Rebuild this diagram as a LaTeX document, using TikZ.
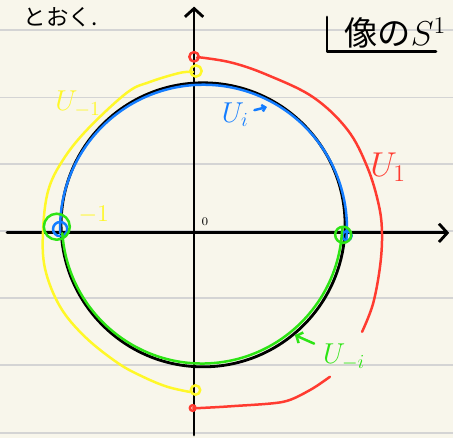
\documentclass[tikz,border=0pt]{standalone}
\usepackage{fontspec}
\newfontfamily\jpfont{Noto Sans CJK JP}
\usepackage{tikz}
\usetikzlibrary{arrows.meta,positioning,calc}
\definecolor{paper}{RGB}{248,246,235}
\definecolor{rulegray}{RGB}{212,212,212}
\definecolor{penred}{RGB}{255,59,48}
\definecolor{penyellow}{RGB}{255,248,40}
\definecolor{penblue}{RGB}{20,125,255}
\definecolor{pengreen}{RGB}{45,228,20}

\begin{document}
\begin{tikzpicture}[line cap=round, line join=round,
        ink/.style={line width=1.7pt, black},
        pen/.style={line width=1.5pt},
        tip/.style={-{Straight Barb[length=5pt,width=11pt]}}]
        \useasboundingbox (-4.1,-4.33) rectangle (5.47,4.92);
        \fill[paper] (-4.1,-4.33) rectangle (5.47,4.92);
        \foreach \y in {4.28, 2.86, 1.45, 0.03, -1.38, -2.80, -4.22} {
            \draw[rulegray, line width=1.2pt] (-4.1,\y) -- (5.47,\y);
        }
        
        \draw[ink, tip] (-3.95,0) -- (5.39,0);
        \draw[ink, tip] (0,-4.27) -- (0,4.78);
        \draw[ink] (0.19,0.17) circle (3);
        
        \draw[pen, penred] plot[smooth, tension=0.6] coordinates {(0.06,3.70) (0.19,3.70) (0.82,3.59) (1.54,3.34) (2.51,2.87) (3.24,2.18) (3.66,1.39) (3.90,0.60) (3.97,0) (3.93,-0.70) (3.78,-1.50) (3.55,-2.09)};
        \draw[pen, penred] plot[smooth, tension=0.5] coordinates {(2.87,-3.04) (2.45,-3.32) (1.88,-3.57) (0.82,-3.66) (0.13,-3.70) (-0.02,-3.70)};
        \draw[pen, penred] (0,3.72) circle (0.1);
        \draw[pen, penred] (-0.03,-3.70) circle (0.06);
        
        \draw[pen, penyellow] plot[smooth, tension=0.6] coordinates {(-0.02,3.40) (-0.30,3.38) (-0.93,3.19) (-1.42,2.96) (-2.26,2.18) (-2.77,1.54) (-3.08,0.90) (-3.19,0.06) (-3.15,-0.75) (-2.83,-1.56) (-2.30,-2.20) (-1.61,-2.75) (-1.08,-3.04) (-0.57,-3.25) (-0.09,-3.36)};
        \draw[pen, penyellow] (0.04,3.42) circle (0.12);
        \draw[pen, penyellow] (0.03,-3.32) circle (0.1);
        
        \draw[pen, penblue] (0.2,0.1) ++(182:3.03) arc[start angle=182, end angle=-4, radius=3.03];
        \draw[pen, penblue] (-2.83,0.08) circle (0.15);
        \draw[pen, penblue] (3.23,-0.06) circle (0.1);
        
        \draw[pen, pengreen] (0.17,0.2) ++(184:2.96) arc[start angle=184, end angle=358, radius=2.96];
        \draw[pen, pengreen] (-2.90,0.13) circle (0.275);
        \draw[pen, pengreen] (3.15,-0.04) circle (0.17);
        
        \node[penred, font=\huge] (u1) at (4.10,1.39) {$U_1$};
        \node[penyellow, font=\LARGE] (um1) at (-2.45,2.72) {$U_{-1}$};
        \node[penblue, font=\LARGE] (ui) at (0.87,2.49) {$U_i$};
        \node[pengreen, font=\LARGE] (umi) at (3.17,-2.62) {$U_{-i}$};
        \node[penyellow, font=\Large] (m1) at (-2.12,0.38) {$-1$};
        \node[font=\scriptsize] (o) at (0.23,0.23) {$0$};
        \node[anchor=west, font=\jpfont\fontsize{13.5}{13.5}\selectfont] (far) at (-3.72,4.55) {とおく.};
        \node[anchor=west, font=\jpfont\fontsize{20}{20}\selectfont] (img) at (3.05,4.22) {像の$S^1$};
        \draw[ink] (2.81,4.56) |- (5.11,3.83);
        
        \coordinate (ui-tip) at (1.54,2.66);
        \coordinate (umi-tip) at (2.13,-2.16);
        \draw[pen, penblue, -{Straight Barb[length=2pt,width=4pt]}] (ui) -- (ui-tip);
        \draw[pen, pengreen, -{Straight Barb[length=3pt,width=7pt]}, shorten <=2pt] (umi) -- (umi-tip);
    \end{tikzpicture}
\end{document}
